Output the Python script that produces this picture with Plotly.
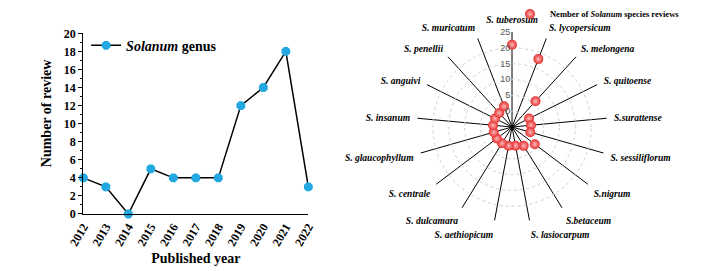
import plotly.graph_objects as go

years = [2012, 2013, 2014, 2015, 2016, 2017, 2018, 2019, 2020, 2021, 2022]
reviews = [4, 3, 0, 5, 4, 4, 4, 12, 14, 18, 3]

species = ["S. tuberosum", "S. lycopersicum", "S. melongena", "S. quitoense",
           "S.surattense", "S. sessiliflorum", "S.nigrum", "S.betaceum",
           "S. lasiocarpum", "S. aethiopicum", "S. dulcamara", "S. centrale",
           "S. glaucophyllum", "S. insanum", "S. anguivi", "S. penellii",
           "S. muricatum"]
species_reviews = [21, 18, 6, 1, 1, 1, 4, 2, 1, 1, 1, 1, 1, 1, 1, 1, 2]

y_ticks = [0, 2, 4, 6, 8, 10, 12, 14, 16, 18, 20]
r_ticks = [0, 5, 10, 15, 20, 25]

SERIF = "Liberation Serif"

fig = go.Figure()

fig.add_trace(go.Scatter(
    x=years, y=reviews, mode="lines+markers",
    name="<i>Solanum</i> genus",
    line=dict(color="black", width=1.5),
    marker=dict(symbol="octagon", size=9.5, color="#22a7e0",
                line=dict(color="#22a7e0", width=0)),
    cliponaxis=False, legend="legend", showlegend=True,
))

fig.add_trace(go.Scatterpolar(
    r=species_reviews, theta=species, mode="markers",
    name="Nember of <i>Solanum</i> species reviews",
    marker=dict(size=10, color="#e3302f",
                gradient=dict(type="radial", color="#ffb8b8"),
                line=dict(width=0)),
    legend="legend2", showlegend=True,
))

fig.update_layout(
    width=710, height=271,
    margin=dict(l=0, r=0, t=0, b=0, autoexpand=False),
    paper_bgcolor="white", plot_bgcolor="white",
    font=dict(family=SERIF, color="black"),
    showlegend=True,
    xaxis=dict(
        domain=[0.1061, 0.4230], range=[2012, 2022], automargin=False,
        tickmode="array", tickvals=years, ticktext=[str(y) for y in years],
        tickangle=-60, showgrid=False, zeroline=False,
        showline=True, linecolor="black", linewidth=1.3,
        ticks="", tickfont=dict(family=SERIF, size=12, weight="bold"),
        title=dict(text="Published year", font=dict(family=SERIF, size=14, weight="bold"),
                   standoff=5),
    ),
    yaxis=dict(
        domain=[0.2399, 0.9066], range=[0, 20], automargin=False,
        tickmode="array", tickvals=y_ticks,
        showgrid=False, zeroline=False,
        showline=True, linecolor="black", linewidth=1.3,
        ticks="outside", ticklen=4, tickcolor="black", tickwidth=1.2,
        minor=dict(ticks="outside", ticklen=2, tickcolor="black", dtick=1, tickwidth=1),
        tickfont=dict(family=SERIF, size=12, weight="bold"),
    ),
    annotations=[dict(
        text="Number of review", xref="paper", yref="paper",
        x=0.0545, y=0.6107, xanchor="center", yanchor="middle",
        textangle=-90, showarrow=False,
        font=dict(family=SERIF, size=14, weight="bold"),
    )],
    legend=dict(
        x=0.11, y=0.861, xanchor="left", yanchor="middle",
        bgcolor="rgba(0,0,0,0)",
        font=dict(family=SERIF, size=14, weight="bold"),
        itemwidth=30,
    ),
    legend2=dict(
        x=0.707, y=0.978, xanchor="left", yanchor="middle",
        bgcolor="rgba(0,0,0,0)",
        font=dict(family=SERIF, size=8.5, weight="bold"),
        itemwidth=30,
    ),
    polar=dict(
        domain=dict(x=[0.5761, 0.8437], y=[0.2103, 0.9114]),
        bgcolor="white",
        radialaxis=dict(
            range=[-5, 25], tickmode="array", tickvals=r_ticks,
            angle=90, tickangle=90, side="counterclockwise",
            showline=False, ticks="",
            gridcolor="#d0d0d0", gridwidth=0.8, griddash="dot",
            tickfont=dict(family="Liberation Sans", size=9, color="#555555"),
        ),
        angularaxis=dict(
            rotation=90, direction="clockwise",
            categoryorder="array", categoryarray=species,
            showline=False, ticks="outside", ticklen=5, tickcolor="rgba(0,0,0,0)",
            gridcolor="black", gridwidth=1.2,
            tickfont=dict(family=SERIF, size=9.5, weight="bold", style="italic"),
        ),
    ),
)

fig.write_html("out.html")
